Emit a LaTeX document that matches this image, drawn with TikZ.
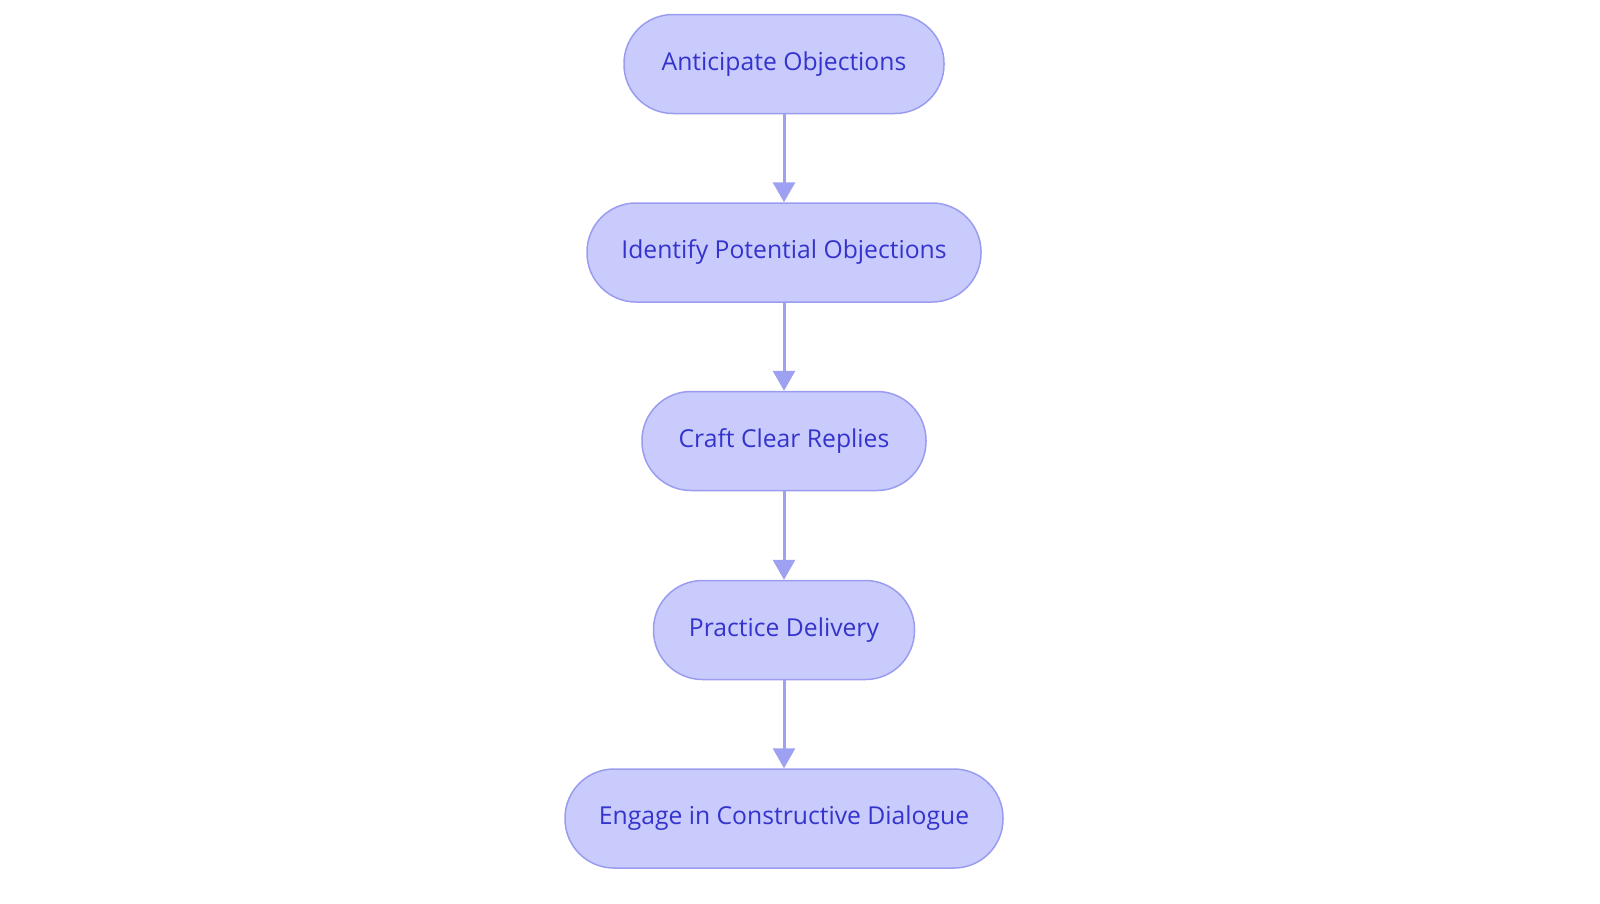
\documentclass[tikz,border=0pt]{standalone}
\usepackage{fontspec}
\setmainfont{Open Sans}
\usetikzlibrary{arrows.meta}
\definecolor{boxfill}{HTML}{C9CBFD}
\definecolor{boxline}{HTML}{9A9CF0}
\definecolor{arrowcol}{HTML}{9EA0F2}
\definecolor{txtcol}{HTML}{3434CC}
\tikzset{
  stepbox/.style={draw=boxline, fill=boxfill, line width=1.5pt, rounded corners=49pt,
    minimum height=99pt, text=txtcol, font=\fontsize{24.7pt}{29pt}\selectfont, inner sep=0pt},
  flow/.style={draw=arrowcol, line width=3pt, -{Triangle[width=22pt,length=20pt]}}
}
\begin{document}
\begin{tikzpicture}[x=1pt,y=-1pt]
\useasboundingbox (0,0) rectangle (1600,903);
\node[stepbox, minimum width=320pt] (a) at (784,64) {Anticipate Objections};
\node[stepbox, minimum width=394pt] (b) at (784,252.5) {Identify Potential Objections};
\node[stepbox, minimum width=284pt] (c) at (784,441) {Craft Clear Replies};
\node[stepbox, minimum width=261pt] (d) at (784,630) {Practice Delivery};
\node[stepbox, minimum width=438pt] (e) at (784,818.5) {Engage in Constructive Dialogue};
\draw[flow] (a) -- (b);
\draw[flow] (b) -- (c);
\draw[flow] (c) -- (d);
\draw[flow] (d) -- (e);
\end{tikzpicture}
\end{document}
